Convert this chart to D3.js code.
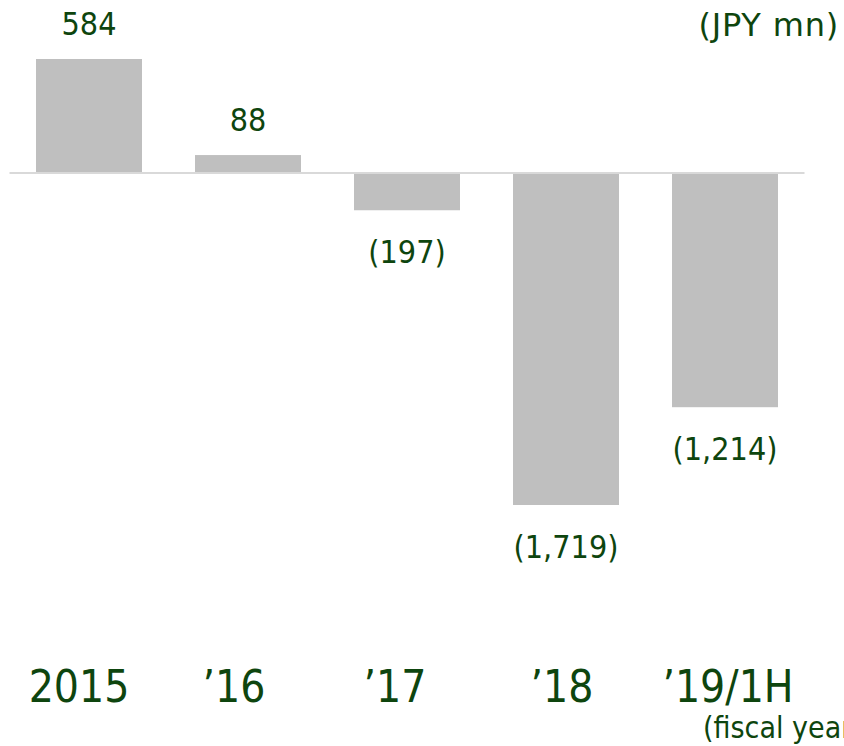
<!DOCTYPE html>
<html>
<head>
<meta charset="utf-8">
<script src="https://cdn.jsdelivr.net/npm/d3@7"></script>
<style>
  body { margin: 0; background: #fff; }
  svg { display: block; }
  .lbl { font-family: "DejaVu Sans Condensed", "DejaVu Sans", sans-serif; font-stretch: condensed; fill: #0e450e; }
</style>
</head>
<body>
<div id="chart"></div>
<script>
// fiscal years and operating profit (JPY mn)
const categories = [`2015`, `’16`, `’17`, `’18`, `’19/1H`];
const values = [584, 88, -197, -1719, -1214];
const unitLabel = `(JPY mn)`;
const axisNote = `(fiscal year)`;

const width = 844;
const height = 746;

// the year labels sit in their own row, not exactly under each bar
const catNudge = [-10, -14, -12, -4, 3];

const svg = d3.select(`#chart`).append(`svg`)
    .attr(`width`, width)
    .attr(`height`, height);

const x = d3.scaleBand()
  .domain(categories)
  .range([9.5, 804.5])
  .paddingInner(1 / 3)
  .paddingOuter(1 / 6);

const y = d3.scaleLinear()
  .domain([d3.min(values), d3.max(values)])
  .range([505, 59]);

const fmt = d3.format(`,`);
const labelText = (v) => v < 0 ? `(${fmt(-v)})` : fmt(v);

const data = categories.map((c, i) => ({ cat: c, value: values[i], nudge: catNudge[i] }));

svg.selectAll(`rect.bar`)
    .data(data)
  .enter().append(`rect`)
    .attr(`class`, `bar`)
    .attr(`x`, (d) => x(d.cat))
    .attr(`width`, x.bandwidth())
    .attr(`y`, (d) => y(Math.max(0, d.value)))
    .attr(`height`, (d) => Math.abs(y(d.value) - y(0)))
    .attr(`fill`, `#bfbfbf`);

// zero line
svg.append(`line`)
    .attr(`x1`, x.range()[0])
    .attr(`x2`, x.range()[1])
    .attr(`y1`, y(0) + 1)
    .attr(`y2`, y(0) + 1)
    .attr(`stroke`, `#d9d9d9`)
    .attr(`stroke-width`, 2);

// value labels
svg.selectAll(`text.val`)
    .data(data)
  .enter().append(`text`)
    .attr(`class`, `val lbl`)
    .attr(`x`, (d) => x(d.cat) + x.bandwidth() / 2)
    .attr(`y`, (d) => d.value >= 0 ? y(d.value) - 24 : y(d.value) + 53)
    .attr(`text-anchor`, `middle`)
    .style(`font-size`, `32px`)
    .text((d) => labelText(d.value));

// category labels
svg.selectAll(`text.cat`)
    .data(data)
  .enter().append(`text`)
    .attr(`class`, `cat lbl`)
    .attr(`x`, (d) => x(d.cat) + x.bandwidth() / 2 + d.nudge)
    .attr(`y`, 702)
    .attr(`text-anchor`, `middle`)
    .style(`font-size`, `44px`)
    .text((d) => d.cat);

svg.append(`text`)
    .attr(`class`, `lbl`)
    .attr(`x`, 839)
    .attr(`y`, 36)
    .attr(`text-anchor`, `end`)
    .style(`font-size`, `32px`)
    .style(`letter-spacing`, `0.8px`)
    .style(`font-family`, `"DejaVu Sans", sans-serif`)
    .style(`font-stretch`, `normal`)
    .text(unitLabel);

svg.append(`text`)
    .attr(`class`, `lbl`)
    .attr(`x`, 703)
    .attr(`y`, 738)
    .style(`font-size`, `30px`)
    .text(axisNote);
</script>
</body>
</html>
